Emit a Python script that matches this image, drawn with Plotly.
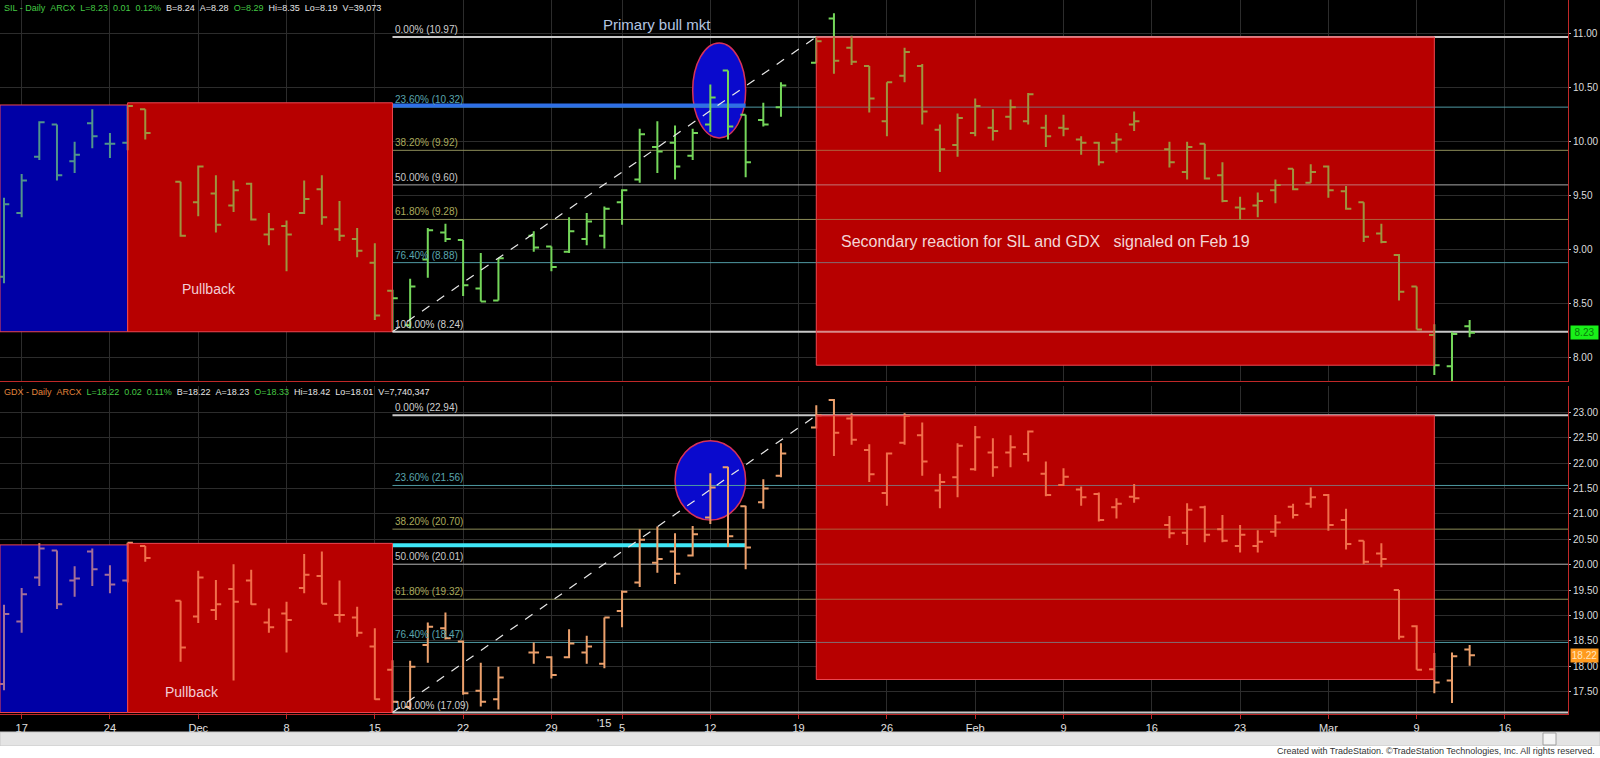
import plotly.graph_objects as go

# ---------------- data ----------------
DATES = [
    "2014-11-14", "2014-11-17", "2014-11-18", "2014-11-19", "2014-11-20", "2014-11-21",
    "2014-11-24", "2014-11-25", "2014-11-26", "2014-11-28",
    "2014-12-01", "2014-12-02", "2014-12-03", "2014-12-04", "2014-12-05",
    "2014-12-08", "2014-12-09", "2014-12-10", "2014-12-11", "2014-12-12",
    "2014-12-15", "2014-12-16", "2014-12-17", "2014-12-18", "2014-12-19",
    "2014-12-22", "2014-12-23", "2014-12-24", "2014-12-26",
    "2014-12-29", "2014-12-30", "2014-12-31", "2015-01-02",
    "2015-01-05", "2015-01-06", "2015-01-07", "2015-01-08", "2015-01-09",
    "2015-01-12", "2015-01-13", "2015-01-14", "2015-01-15", "2015-01-16",
    "2015-01-20", "2015-01-21", "2015-01-22", "2015-01-23",
    "2015-01-26", "2015-01-27", "2015-01-28", "2015-01-29", "2015-01-30",
    "2015-02-02", "2015-02-03", "2015-02-04", "2015-02-05", "2015-02-06",
    "2015-02-09", "2015-02-10", "2015-02-11", "2015-02-12", "2015-02-13",
    "2015-02-17", "2015-02-18", "2015-02-19", "2015-02-20",
    "2015-02-23", "2015-02-24", "2015-02-25", "2015-02-26", "2015-02-27",
    "2015-03-02", "2015-03-03", "2015-03-04", "2015-03-05", "2015-03-06",
    "2015-03-09", "2015-03-10", "2015-03-11", "2015-03-12",
]

SIL_O = [8.75, 9.34, 9.86, 10.16, 9.82, 10.17, 9.98, 9.99, 10.30, 9.63,
         9.44, 9.52, 9.41, 9.61, 9.14, 9.22, 9.34, 9.56, 9.19, 9.10,
         8.88, 8.62, 8.30, 8.91, 9.16, 9.09, 8.64, 8.53, 9.13,
         9.03, 8.98, 9.10, 9.13, 9.44, 9.65, 9.95, 9.99, 9.87,
         10.16, 10.66, 10.25, 10.20, 10.32, 10.73, 11.14, 10.87, 10.70,
         10.19, 10.61, 10.70, 10.11, 9.97, 10.08, 10.13, 10.23, 10.19, 10.13,
         10.13, 10.02, 9.99, 9.99, 10.16, 9.93, 9.72, 9.98, 9.69,
         9.39, 9.41, 9.55, 9.75, 9.62, 9.77, 9.54, 9.44, 9.15, 8.95,
         8.66, 8.21, 7.92, 8.29]
SIL_H = [9.48, 9.70, 10.19, 10.16, 10.00, 10.30, 10.08, 10.34, 10.30, 9.63,
         9.78, 9.69, 9.64, 9.62, 9.34, 9.27, 9.64, 9.69, 9.45, 9.20,
         9.06, 8.63, 8.73, 9.20, 9.24, 9.09, 8.97, 8.92, 9.17,
         9.03, 9.30, 9.34, 9.40, 9.56, 10.12, 10.19, 10.15, 10.12,
         10.53, 10.66, 10.25, 10.36, 10.55, 10.97, 11.19, 10.98, 10.70,
         10.55, 10.87, 10.72, 10.16, 10.26, 10.40, 10.30, 10.39, 10.45, 10.25,
         10.25, 10.05, 10.00, 10.08, 10.28, 10.00, 10.00, 9.98, 9.81,
         9.49, 9.53, 9.65, 9.75, 9.79, 9.78, 9.59, 9.44, 9.24, 8.96,
         8.66, 8.31, 8.24, 8.35]
SIL_L = [8.69, 9.30, 9.83, 9.64, 9.71, 9.94, 9.85, 9.92, 10.02, 9.12,
         9.31, 9.16, 9.35, 9.27, 9.04, 8.80, 9.33, 9.23, 9.08, 8.93,
         8.35, 8.24, 8.27, 8.74, 9.07, 8.57, 8.52, 8.53, 8.98,
         8.80, 8.97, 9.04, 9.01, 9.23, 9.62, 9.71, 9.65, 9.83,
         10.09, 10.02, 9.67, 10.14, 10.23, 10.73, 10.63, 10.71, 10.27,
         10.05, 10.55, 10.16, 9.72, 9.86, 10.05, 10.01, 10.11, 10.16, 9.95,
         10.05, 9.88, 9.78, 9.90, 10.10, 9.76, 9.65, 9.65, 9.44,
         9.28, 9.30, 9.43, 9.55, 9.62, 9.48, 9.37, 9.07, 9.06, 8.53,
         8.26, 7.84, 7.75, 8.19]
SIL_C = [9.42, 9.64, 10.18, 9.69, 9.88, 10.05, 9.98, 10.33, 10.08, 9.13,
         9.77, 9.23, 9.55, 9.28, 9.19, 9.14, 9.47, 9.30, 9.13, 8.99,
         8.39, 8.55, 8.66, 9.18, 9.10, 8.67, 8.52, 8.92, 9.02,
         8.84, 9.17, 9.26, 9.38, 9.55, 10.07, 9.91, 9.77, 10.08,
         10.41, 10.14, 9.81, 10.16, 10.52, 10.93, 10.75, 10.74, 10.40,
         10.55, 10.83, 10.28, 9.93, 10.22, 10.33, 10.10, 10.32, 10.44, 10.05,
         10.12, 9.99, 9.81, 10.02, 10.19, 9.81, 9.95, 9.66, 9.45,
         9.38, 9.45, 9.60, 9.56, 9.72, 9.55, 9.38, 9.12, 9.07, 8.61,
         8.26, 7.93, 8.22, 8.23]

GDX_O = [17.65, 18.88, 19.75, 20.28, 19.69, 20.26, 19.80, 19.69, 20.37, 19.29,
         18.98, 19.11, 19.52, 19.69, 18.86, 19.04, 19.54, 19.78, 19.01, 18.96,
         18.39, 17.93, 17.20, 18.42, 18.75, 18.49, 17.52, 17.35, 18.27,
         18.18, 18.18, 18.27, 18.05, 19.09, 19.65, 20.04, 20.26, 20.18,
         20.93, 21.92, 21.15, 21.23, 21.75, 22.70, 23.24, 22.88, 22.26,
         21.41, 22.40, 22.55, 21.46, 21.72, 21.88, 22.21, 22.21, 22.18, 21.79,
         21.57, 21.48, 21.39, 21.13, 21.34, 20.78, 20.63, 21.13, 20.70,
         20.37, 20.37, 20.65, 21.14, 21.20, 21.37, 20.88, 20.47, 20.22, 19.50,
         18.79, 17.94, 17.72, 18.33]
GDX_H = [19.21, 19.54, 20.42, 20.28, 19.97, 20.32, 19.99, 20.43, 20.37, 19.29,
         19.88, 19.70, 20.01, 19.90, 19.14, 19.27, 20.21, 20.26, 19.69, 19.17,
         18.75, 18.12, 18.11, 18.86, 19.06, 18.51, 18.07, 17.99, 18.47,
         18.20, 18.73, 18.60, 18.96, 19.49, 20.70, 20.75, 20.62, 20.76,
         21.80, 21.93, 21.16, 21.68, 22.39, 23.14, 23.26, 22.98, 22.37,
         22.21, 22.98, 22.80, 21.79, 22.39, 22.73, 22.49, 22.55, 22.64, 22.03,
         21.90, 21.54, 21.42, 21.31, 21.59, 20.96, 21.21, 21.16, 20.98,
         20.78, 20.68, 20.98, 21.20, 21.52, 21.39, 21.10, 20.47, 20.42, 19.50,
         18.81, 18.26, 18.27, 18.42]
GDX_L = [17.53, 18.66, 19.58, 19.13, 19.37, 19.58, 19.44, 19.65, 20.06, 18.09,
         18.85, 18.91, 17.72, 19.21, 18.66, 18.27, 19.44, 19.23, 18.86, 18.58,
         17.34, 17.09, 17.14, 18.07, 18.53, 17.44, 17.21, 17.15, 18.05,
         17.76, 18.16, 18.05, 17.96, 18.77, 19.56, 19.84, 19.62, 20.16,
         20.80, 20.35, 19.91, 21.10, 21.72, 22.68, 22.14, 22.36, 21.63,
         21.16, 22.36, 21.75, 21.11, 21.33, 21.85, 21.73, 21.92, 22.03, 21.35,
         21.55, 21.16, 20.85, 20.91, 21.22, 20.52, 20.39, 20.44, 20.44,
         20.24, 20.24, 20.55, 20.91, 21.12, 20.67, 20.30, 20.01, 19.95, 18.53,
         17.93, 17.47, 17.28, 18.01]
GDX_C = [19.03, 19.42, 20.32, 19.22, 19.73, 19.91, 19.61, 20.43, 20.13, 18.37,
         19.75, 19.22, 19.27, 19.22, 18.77, 18.91, 19.80, 19.23, 19.01, 18.66,
         17.35, 17.30, 17.99, 18.78, 18.55, 17.47, 17.30, 17.78, 18.27,
         17.83, 18.45, 18.39, 18.96, 19.47, 20.49, 20.11, 19.82, 20.60,
         21.52, 20.56, 20.34, 21.50, 22.19, 22.94, 22.60, 22.46, 21.78,
         22.19, 22.93, 22.03, 21.63, 22.34, 22.51, 21.92, 22.31, 22.62, 21.37,
         21.73, 21.33, 20.88, 21.20, 21.31, 20.62, 21.08, 20.59, 20.47,
         20.59, 20.45, 20.83, 20.98, 21.33, 20.78, 20.41, 20.06, 20.11, 18.58,
         17.93, 17.68, 18.20, 18.22]

SIL_QUOTE = {"B": 8.24, "A": 8.28, "V": "39,073"}
GDX_QUOTE = {"B": 18.22, "A": 18.23, "V": "7,740,347"}

FIB_PCTS = ["0.00%", "23.60%", "38.20%", "50.00%", "61.80%", "76.40%", "100.00%"]
SIL_FIB = [10.97, 10.32, 9.92, 9.60, 9.28, 8.88, 8.24]
GDX_FIB = [22.94, 21.56, 20.70, 20.01, 19.32, 18.47, 17.09]

X_TICKS = ["2014-11-17", "2014-11-24", "2014-12-01", "2014-12-08", "2014-12-15",
           "2014-12-22", "2014-12-29", "2015-01-05", "2015-01-12", "2015-01-19",
           "2015-01-26", "2015-02-02", "2015-02-09", "2015-02-16", "2015-02-23",
           "2015-03-02", "2015-03-09", "2015-03-16"]
X_TICK_TEXT = ["17", "24", "Dec", "8", "15", "22", "29", "5", "12", "19", "26",
               "Feb", "9", "16", "23", "Mar", "9", "16"]
YEAR_TICK = ("2015-01-02", "'15")

SIL_Y_TICKS = [8.0, 8.5, 9.0, 9.5, 10.0, 10.5, 11.0]
GDX_Y_TICKS = [17.5, 18.0, 18.5, 19.0, 19.5, 20.0, 20.5, 21.0, 21.5, 22.0, 22.5, 23.0]

# ---------------- layout constants ----------------
W, H = 1600, 758
ML, MR, MT, MB = 0, 32, 0, 44
PW, PH = W - ML - MR, H - MT - MB
X_LEFT = "2014-11-13 18:34"
X_RIGHT = "2015-03-19 13:40"
SIL_RANGE = [7.784, 11.312]
GDX_RANGE = [17.061, 23.518]
FONT = "Liberation Sans, Arial, sans-serif"


def py(p):
    return (PH - p) / PH


def px(p):
    return p / PW


# box colours: an opaque base below the bars plus a translucent tint above them
RED_BASE, RED_TINT = "rgb(152,0,0)", "rgb(255,0,0)"
BLUE_BASE, BLUE_TINT = "rgb(0,0,128)", "rgb(0,0,255)"
TINT_ALPHA = 0.3
BOX_EDGE = "rgb(235,70,80)"
SIL_COLOR = "#74d65a"
GDX_COLOR = "#eba06c"
FIB_COLORS = ["#c8c8c8", "#4f9aa3", "#8c8c58", "#a8a8a8", "#8c8c58", "#4f9aa3", "#c8c8c8"]
FIB_TEXT = ["#cfcfcf", "#5aa6ae", "#aaaa5c", "#c8c8c8", "#aaaa5c", "#5aa6ae", "#cfcfcf"]
FIB_WIDTH = [2, 1, 1, 1, 1, 1, 2]

fig = go.Figure()
fig.add_trace(go.Ohlc(x=DATES, open=SIL_O, high=SIL_H, low=SIL_L, close=SIL_C,
                      xaxis="x2", yaxis="y", tickwidth=0.3,
                      increasing=dict(line=dict(color=SIL_COLOR, width=2)),
                      decreasing=dict(line=dict(color=SIL_COLOR, width=2)),
                      hoverinfo="skip", name="SIL"))
fig.add_trace(go.Ohlc(x=DATES, open=GDX_O, high=GDX_H, low=GDX_L, close=GDX_C,
                      xaxis="x", yaxis="y2", tickwidth=0.3,
                      increasing=dict(line=dict(color=GDX_COLOR, width=2)),
                      decreasing=dict(line=dict(color=GDX_COLOR, width=2)),
                      hoverinfo="skip", name="GDX"))

shapes = []
annotations = []


def box(xr, yr, x0, x1, y0, y1, base, tint):
    shapes.append(dict(type="rect", xref=xr, yref=yr, x0=x0, x1=x1, y0=y0, y1=y1,
                       fillcolor=base, line=dict(width=0), layer="between"))
    shapes.append(dict(type="rect", xref=xr, yref=yr, x0=x0, x1=x1, y0=y0, y1=y1,
                       fillcolor=tint, opacity=TINT_ALPHA, line=dict(width=0), layer="above"))
    shapes.append(dict(type="rect", xref=xr, yref=yr, x0=x0, x1=x1, y0=y0, y1=y1,
                       fillcolor="rgba(0,0,0,0)", line=dict(color=BOX_EDGE, width=1), layer="above"))


panels = [
    ("x2", "y", SIL_FIB, 10.335, "#2f6fe6",
     (8.24, 10.34), (8.24, 10.36), (7.93, 10.97),
     ("2015-01-09", "2015-01-14", 10.035, 10.914)),
    ("x", "y2", GDX_FIB, 20.385, "#3fe6f6",
     (17.09, 20.39), (17.09, 20.42), (17.74, 22.94),
     ("2015-01-08", "2015-01-14", 20.88, 22.44)),
]

for xr, yr, fib, hl, hlcol, bluey, pully, secy, ell in panels:
    box(xr, yr, X_LEFT, "2014-11-25", bluey[0], bluey[1], BLUE_BASE, BLUE_TINT)
    box(xr, yr, "2014-11-25", "2014-12-16", pully[0], pully[1], RED_BASE, RED_TINT)
    box(xr, yr, "2015-01-20", "2015-03-10", secy[0], secy[1], RED_BASE, RED_TINT)
    # ellipse
    shapes.append(dict(type="circle", xref=xr, yref=yr, x0=ell[0], x1=ell[1], y0=ell[2], y1=ell[3],
                       fillcolor="rgb(10,10,205)", line=dict(color="rgb(215,50,90)", width=1.5),
                       layer="between"))
    # fib levels
    for i, (lv, pct) in enumerate(zip(fib, FIB_PCTS)):
        shapes.append(dict(type="line", xref=xr, yref=yr, x0="2014-12-16", x1=X_RIGHT, y0=lv, y1=lv,
                           line=dict(color=FIB_COLORS[i], width=FIB_WIDTH[i]), layer="between"))
        annotations.append(dict(xref=xr, yref=yr, x="2014-12-16", y=lv, xanchor="left", yanchor="bottom",
                                xshift=1, yshift=0, showarrow=False,
                                text=f"{pct} ({lv:.2f})",
                                font=dict(family=FONT, size=10, color=FIB_TEXT[i])))
    # highlight line
    shapes.append(dict(type="line", xref=xr, yref=yr, x0="2014-12-16", x1="2015-01-14", y0=hl, y1=hl,
                       line=dict(color=hlcol, width=4), layer="between"))
    # trend line low -> high
    shapes.append(dict(type="line", xref=xr, yref=yr, x0="2014-12-16", x1="2015-01-20",
                       y0=fib[-1], y1=fib[0], line=dict(color="#e8e8e8", width=1.2, dash="dash"),
                       layer="above"))

# text labels
annotations.append(dict(xref="x2", yref="y", x="2014-12-01 14:00", y=8.64, text="Pullback", showarrow=False,
                        font=dict(family=FONT, size=14, color="#f2cdd6")))
annotations.append(dict(xref="x", yref="y2", x="2014-11-28 15:00", y=17.50, text="Pullback", showarrow=False,
                        font=dict(family=FONT, size=14, color="#f2cdd6")))
annotations.append(dict(xref="x2", yref="y", x="2015-02-06", y=9.08,
                        text="Secondary reaction for SIL and GDX\u00a0\u00a0\u00a0signaled on Feb 19",
                        showarrow=False, font=dict(family=FONT, size=16, color="#f3d6d6")))
annotations.append(dict(xref="paper", yref="paper", x=px(657), y=py(25), xanchor="center", yanchor="middle",
                        text="Primary bull mkt",
                        showarrow=False, font=dict(family=FONT, size=15, color="#b4c6e2")))

# headers
G, Wt, O = "#44c844", "#e6e6e6", "#e0843c"
sp = "\u00a0\u00a0"


def header(sym, col_sym, o, h, l, c, prev, q):
    chg = c - prev
    pct = chg / prev * 100
    return (f'<span style="color:{col_sym}">{sym} - Daily{sp}ARCX</span>{sp}'
            f'<span style="color:{G}">L={c:.2f}{sp}{chg:.2f}{sp}{pct:.2f}%</span>{sp}'
            f'<span style="color:{Wt}">B={q["B"]:.2f}{sp}A={q["A"]:.2f}</span>{sp}'
            f'<span style="color:{G}">O={o:.2f}</span>{sp}'
            f'<span style="color:{Wt}">Hi={h:.2f}{sp}Lo={l:.2f}{sp}V={q["V"]}</span>')


annotations.append(dict(xref="paper", yref="paper", x=px(2), y=py(8), xanchor="left", yanchor="middle",
                        showarrow=False, font=dict(family=FONT, size=9),
                        text=header("SIL", G, SIL_O[-1], SIL_H[-1], SIL_L[-1], SIL_C[-1], SIL_C[-2], SIL_QUOTE)))
annotations.append(dict(xref="paper", yref="paper", x=px(2), y=py(392), xanchor="left", yanchor="middle",
                        showarrow=False, font=dict(family=FONT, size=9),
                        text=header("GDX", O, GDX_O[-1], GDX_H[-1], GDX_L[-1], GDX_C[-1], GDX_C[-2], GDX_QUOTE)))

# last price tags
for yr, val, bg, fg in [("y", SIL_C[-1], "#19f019", "#0a7a0a"), ("y2", GDX_C[-1], "#ff9a1e", "#ffe6bf")]:
    annotations.append(dict(xref="paper", yref=yr, x=px(1570), y=val, xanchor="left", yanchor="middle",
                            showarrow=False, text=f"{val:.2f}", bgcolor=bg, borderpad=1, width=25,
                            font=dict(family=FONT, size=10, color=fg)))

# '15 year label on x axis
annotations.append(dict(xref="x", yref="paper", x=YEAR_TICK[0], y=py(723), text=YEAR_TICK[1],
                        showarrow=False, yanchor="middle", font=dict(family=FONT, size=11, color="#e0e0e0")))

# bottom strips (scrollbar + footer)
shapes.append(dict(type="rect", xref="paper", yref="paper", x0=0, x1=W / PW, y0=py(732), y1=py(746),
                   fillcolor="#e4e4e4", line=dict(color="#c8c8c8", width=1), layer="above"))
shapes.append(dict(type="rect", xref="paper", yref="paper", x0=px(1543), x1=px(1556), y0=py(733), y1=py(745),
                   fillcolor="#f4f4f4", line=dict(color="#a0a0a0", width=1), layer="above"))
shapes.append(dict(type="rect", xref="paper", yref="paper", x0=0, x1=W / PW, y0=py(746), y1=py(758),
                   fillcolor="#ffffff", line=dict(width=0), layer="above"))
annotations.append(dict(xref="paper", yref="paper", x=px(1597), y=py(751), xanchor="right", yanchor="middle",
                        showarrow=False,
                        text="Created with TradeStation. \u00a9TradeStation Technologies, Inc. All rights reserved.",
                        font=dict(family=FONT, size=9, color="#333333")))

GRID = "#2c2c2c"
AXRED = "#c02828"
rb = [dict(bounds=["sat", "mon"]), dict(values=["2015-01-01"])]
xcommon = dict(type="date", range=[X_LEFT, X_RIGHT], rangebreaks=rb, tickmode="array",
               tickvals=X_TICKS, ticktext=X_TICK_TEXT, showgrid=True, gridcolor=GRID, gridwidth=1,
               zeroline=False, rangeslider=dict(visible=False), automargin=False)

fig.update_layout(
    width=W, height=H, margin=dict(l=ML, r=MR, t=MT, b=MB, autoexpand=False),
    paper_bgcolor="#000000", plot_bgcolor="#000000", showlegend=False,
    font=dict(family=FONT, size=11, color="#e0e0e0"),
    xaxis=dict(**xcommon, anchor="y2", showline=True, linecolor=AXRED, linewidth=1,
               ticks="outside", ticklen=4, tickcolor=AXRED,
               tickfont=dict(family=FONT, size=11, color="#e0e0e0")),
    xaxis2=dict(**xcommon, anchor="y", matches="x", showticklabels=False, showline=True,
                linecolor=AXRED, linewidth=1, ticks=""),
    yaxis=dict(domain=[py(381), 1], range=SIL_RANGE, side="right", tickmode="array",
               tickvals=SIL_Y_TICKS, ticktext=[f"{v:.2f}" for v in SIL_Y_TICKS],
               showgrid=True, gridcolor=GRID, zeroline=False, showline=True, linecolor=AXRED,
               ticks="outside", ticklen=2, tickcolor="#bbbbbb", anchor="x2", automargin=False,
               tickfont=dict(family=FONT, size=10, color="#dcdcdc")),
    yaxis2=dict(domain=[0, py(386)], range=GDX_RANGE, side="right", tickmode="array",
                tickvals=GDX_Y_TICKS, ticktext=[f"{v:.2f}" for v in GDX_Y_TICKS],
                showgrid=True, gridcolor=GRID, zeroline=False, showline=True, linecolor=AXRED,
                ticks="outside", ticklen=2, tickcolor="#bbbbbb", anchor="x", automargin=False,
                tickfont=dict(family=FONT, size=10, color="#dcdcdc")),
    shapes=shapes, annotations=annotations,
)

fig.write_html("out.html", config={"displayModeBar": False},
               post_script="document.body.style.margin='0px';document.body.style.padding='0px';")
